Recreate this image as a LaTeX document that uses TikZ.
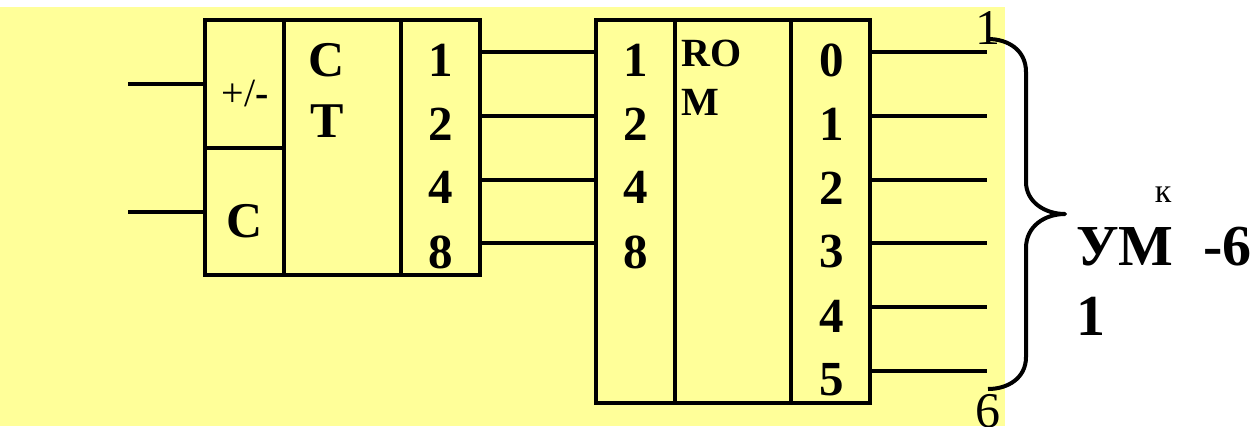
\documentclass[tikz,border=0pt]{standalone}
\usepackage{fontspec}
\setmainfont{Liberation Serif}
\definecolor{bgyellow}{HTML}{FFFF99}
\tikzset{
  wire/.style={line width=3.2pt},
  part/.style={draw,line width=4pt,fill=bgyellow,inner sep=0pt,minimum width=#1},
  dig/.style={inner sep=0pt,font=\fontsize{49}{49}\selectfont\bfseries},
  big/.style={inner sep=0pt,font=\fontsize{50}{50}\selectfont\bfseries},
  rom/.style={inner sep=0pt,anchor=west,font=\fontsize{40}{40}\selectfont\bfseries},
  thin/.style={inner sep=0pt,font=\fontsize{50}{50}\selectfont},
  lab/.style={inner sep=0pt,anchor=base west,font=\fontsize{58}{58}\selectfont\bfseries},
}
\begin{document}
\begin{tikzpicture}[x=1pt,y=-1pt]
\useasboundingbox (0,0) rectangle (1252,426);
\clip (0,0) rectangle (1252,426);
\fill[bgyellow] (0,7) rectangle (1005,426);
% blocks
\node[part=275pt,minimum height=255pt] (ct) at (342.5,147.5) {};
\node[part=274pt,minimum height=383pt] (romb) at (733,211.5) {};
\coordinate (ctA) at (284,20); \coordinate (ctAb) at (284,275);
\coordinate (ctB) at (401,20); \coordinate (ctBb) at (401,275);
\coordinate (ctH) at (205,148); \coordinate (ctHb) at (284,148);
\coordinate (rA) at (675,20); \coordinate (rAb) at (675,403);
\coordinate (rB) at (791,20); \coordinate (rBb) at (791,403);
\draw[line width=4pt] (ctA) -- (ctAb) (ctB) -- (ctBb) (ctH) -- (ctHb) (rA) -- (rAb) (rB) -- (rBb);
% inputs
\coordinate (i1) at (128,84); \coordinate (i1e) at (205,84);
\coordinate (i2) at (128,212); \coordinate (i2e) at (205,212);
\draw[wire] (i1) -- (i1e) (i2) -- (i2e);
% bus
\foreach \n/\y in {a/52,b/116,c/180,d/243}{
  \coordinate (q\n) at (480,\y); \coordinate (d\n) at (596,\y);
  \draw[wire] (q\n) -- (d\n);
}
% outputs
\foreach \n/\y in {0/52,1/116,2/180,3/243,4/307,5/371}{
  \coordinate (o\n) at (870,\y); \coordinate (t\n) at (987,\y);
  \draw[wire] (o\n) -- (t\n);
}
% brace
\coordinate (bt) at (988,39); \coordinate (bm) at (1065,214); \coordinate (bb) at (988,389);
\draw[line width=4pt,line join=round] (bt) .. controls (1008,39) and (1026,50) .. (1026,72) -- (1026,182)
  .. controls (1026,202) and (1045,214) .. (bm)
  .. controls (1045,214) and (1026,226) .. (1026,248) -- (1026,357)
  .. controls (1026,378) and (1008,389) .. (bb);
% texts
\node[inner sep=0pt,anchor=base] (pm) at (245,106) {\fontsize{40}{40}\selectfont +/\textbf{-}};
\node[big] (ctC) at (245,221) {C};
\node[big] (ctl1) at (327,60) {C};
\node[big] (ctl2) at (327,121) {T};
\foreach \t/\y in {1/60,2/124,4/187,8/252}{
  \node[dig] (ct\t) at (441,\y) {\t};
  \node[dig] (ri\t) at (636,\y) {\t};
}
\node[rom] (ro) at (681,53) {RO};
\node[rom] (rm) at (681,102) {M};
\foreach \t/\y in {0/60,1/124,2/188,3/252,4/316,5/380}{
  \node[dig] (ro\t) at (832,\y) {\t};
}
\node[thin] (n1) at (988,28) {1};
\node[thin] (n6) at (988,411) {6};
\node[inner sep=0pt,font=\fontsize{34}{34}\selectfont] (k) at (1163,195) {к};
\node[lab] (um) at (1076,265) {УМ};
\node[lab] (m6) at (1203,265) {-6};
\node[lab] (one) at (1076,335) {1};
\end{tikzpicture}
\end{document}
